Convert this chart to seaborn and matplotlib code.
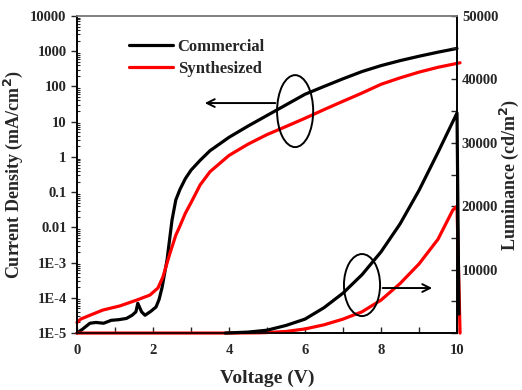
import numpy as np
import matplotlib
matplotlib.use("Agg")
import matplotlib.pyplot as plt
import seaborn as sns
from matplotlib.patches import Ellipse
from matplotlib.ticker import LogLocator, MultipleLocator, FixedLocator, NullFormatter

# current density (mA/cm2) vs voltage
v_comm_j = [0.0, 0.15, 0.34, 0.5, 0.7, 0.9, 1.1, 1.3, 1.45, 1.55, 1.6, 1.7, 1.79, 1.95, 2.08, 2.16,
            2.24, 2.37, 2.5, 2.6, 2.71, 2.85, 3.0, 3.24, 3.5, 4.0, 4.5, 5.0, 5.5, 6.0, 6.5, 7.0,
            7.5, 8.0, 8.5, 9.0, 9.5, 10.0]
j_comm = [1.0e-5, 1.3e-5, 1.9e-5, 2.0e-5, 1.9e-5, 2.3e-5, 2.4e-5, 2.6e-5, 3.2e-5, 4.0e-5, 7.0e-5,
          4.0e-5, 3.2e-5, 4.2e-5, 5.5e-5, 9.0e-5, 2.0e-4, 1.2e-3, 0.016, 0.06, 0.12, 0.24, 0.42,
          0.8, 1.5, 3.6, 7.5, 15, 30, 60, 100, 165, 265, 390, 540, 720, 940, 1200]

v_syn_j = [0.0, 0.1, 0.34, 0.68, 1.13, 1.58, 1.92, 2.13, 2.26, 2.45, 2.6, 2.71, 2.85, 3.0, 3.24,
           3.5, 4.0, 4.5, 5.0, 5.5, 6.0, 6.5, 7.0, 7.5, 8.0, 8.5, 9.0, 9.5, 10.08]
j_syn = [2.0e-5, 2.5e-5, 3.2e-5, 4.5e-5, 5.9e-5, 8.7e-5, 1.2e-4, 1.9e-4, 3.9e-4, 1.9e-3, 6.0e-3,
         0.011, 0.025, 0.05, 0.16, 0.38, 1.1, 2.3, 4.3, 7.3, 12.5, 22, 38, 65, 115, 175, 255, 350, 470]

# luminance (cd/m2) vs voltage
v_comm_l = [3.9, 4.5, 5.0, 5.5, 6.0, 6.5, 7.0, 7.5, 8.0, 8.5, 9.0, 9.5, 10.0, 10.05]
l_comm = [0, 150, 450, 1200, 2200, 4000, 6300, 9200, 12800, 17200, 22500, 28500, 34700, 3000]

v_syn_l = [0.0, 2.0, 4.0, 4.8, 5.0, 5.5, 6.0, 6.5, 7.0, 7.5, 8.0, 8.5, 9.0, 9.5, 9.89, 10.0, 10.08]
l_syn = [0, 0, 0, 40, 80, 250, 650, 1300, 2200, 3350, 5200, 7800, 10900, 14800, 19400, 20000, 0]

sns.set_theme(style="white")
plt.rcParams["font.family"] = ["Liberation Serif", "DejaVu Serif"]
plt.rcParams["font.weight"] = "bold"
plt.rcParams["axes.labelweight"] = "bold"

fig = plt.figure(figsize=(5.22, 3.9), dpi=100)
ax = fig.add_axes([0.1475, 0.146, 0.728, 0.813])
ax2 = ax.twinx()

lw = 2.3
sns.lineplot(x=v_comm_j, y=j_comm, ax=ax, color="black", lw=lw, sort=False,
             estimator=None, label="Commercial", clip_on=False)
sns.lineplot(x=v_syn_j, y=j_syn, ax=ax, color="#ff0000", lw=lw, sort=False,
             estimator=None, label="Synthesized", clip_on=False)
sns.lineplot(x=v_syn_l, y=l_syn, ax=ax2, color="#ff0000", lw=lw, sort=False,
             estimator=None, clip_on=False)
sns.lineplot(x=v_comm_l, y=l_comm, ax=ax2, color="black", lw=lw, sort=False,
             estimator=None, clip_on=False)

ax.set_yscale("log")
ax.set_xlim(0, 10)
ax.set_ylim(1e-5, 1e4)
ax2.set_ylim(0, 50000)

ytick_vals = [1e-5, 1e-4, 1e-3, 1e-2, 0.1, 1, 10, 100, 1000, 10000]
ytick_labs = ["1E-5", "1E-4", "1E-3", "0.01", "0.1", "1", "10", "100", "1000", "10000"]
ax.yaxis.set_major_locator(FixedLocator(ytick_vals))
ax.set_yticklabels(ytick_labs)
ax.yaxis.set_minor_locator(LogLocator(base=10, subs=np.arange(2, 10), numticks=20))
ax.yaxis.set_minor_formatter(NullFormatter())
ax.xaxis.set_major_locator(MultipleLocator(2))
ax.xaxis.set_minor_locator(MultipleLocator(1))

ax2.yaxis.set_major_locator(FixedLocator([10000, 20000, 30000, 40000, 50000]))
ax2.yaxis.set_minor_locator(MultipleLocator(5000))

tick_font = 10.5
ax.tick_params(axis="y", which="major", direction="out", length=4, width=1, labelsize=tick_font, left=True)
ax.tick_params(axis="y", which="minor", direction="in", length=2, width=0.8, left=True)
ax.tick_params(axis="x", which="both", direction="in", length=4, width=1, labelsize=tick_font,
               bottom=True, pad=8)
ax2.tick_params(axis="y", which="both", direction="in", length=4, width=1, labelsize=tick_font, right=True)
for lab in ax.get_xticklabels() + ax.get_yticklabels() + ax2.get_yticklabels():
    lab.set_fontweight("bold")

for a in (ax, ax2):
    for side in ("left", "right", "bottom"):
        a.spines[side].set_color("black")
        a.spines[side].set_linewidth(1.2)
    a.spines["top"].set_color("#808080")
    a.spines["top"].set_linewidth(1.2)

ax.set_xlabel("Voltage (V)", fontsize=14, fontweight="bold", labelpad=9)
ax.set_ylabel("Current Density (mA/cm$^2$)", fontsize=13, fontweight="bold", labelpad=4)
ax2.set_ylabel("Luminance (cd/m$^2$)", fontsize=13, fontweight="bold", labelpad=0)

leg = ax.legend(loc="upper left", bbox_to_anchor=(0.12, 0.95), frameon=False,
                prop={"weight": "bold", "size": 12}, handlelength=2.6,
                handletextpad=0.3, labelspacing=0.4, borderaxespad=0)

# ellipse markers with arrows pointing to each axis
ax2.add_patch(Ellipse((5.74, 35000), 0.95, 11350, fill=False, ec="black", lw=1.4, zorder=5))
ax2.annotate("", xy=(3.29, 36270), xytext=(5.29, 36270),
             arrowprops=dict(arrowstyle="->", color="black", lw=1.4, mutation_scale=14))
ax2.add_patch(Ellipse((7.5, 7570), 0.95, 9780, fill=False, ec="black", lw=1.4, zorder=5))
ax2.annotate("", xy=(9.42, 7100), xytext=(7.97, 7100),
             arrowprops=dict(arrowstyle="->", color="black", lw=1.4, mutation_scale=14))

fig.savefig("out.png", dpi=100)
